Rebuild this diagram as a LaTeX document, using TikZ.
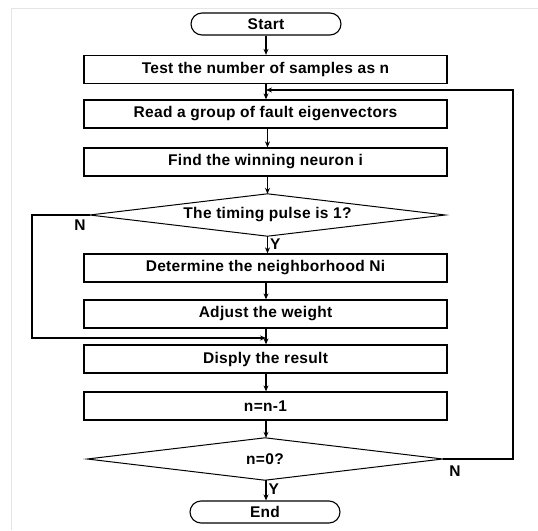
\documentclass[tikz,border=0pt]{standalone}
\usepackage{fontspec}
\setmainfont{Liberation Sans}
\usetikzlibrary{arrows.meta}
\begin{document}
\begin{tikzpicture}[x=1pt,y=-1pt,
  every node/.style={font=\fontsize{15.5}{17}\selectfont\bfseries\addfontfeatures{LetterSpace=2}, text=black},
  procbox/.style={draw=black, line width=1.3pt, rectangle, minimum width=363pt, minimum height=28pt, inner sep=0pt},
  term/.style={draw=black, line width=1.1pt, rounded corners=11pt, minimum width=150pt, minimum height=22pt, inner sep=0pt},
  decbox/.style={rectangle, minimum width=355pt, minimum height=42pt, inner sep=0pt},
  diamondline/.style={draw=black, line width=1pt},
  flow/.style={draw=black, line width=1.3pt, -{Stealth[length=6pt,width=5pt]}},
  plain/.style={draw=black, line width=1.3pt},
  lbl/.style={inner sep=0pt}
]
\useasboundingbox (0,0) rectangle (538,530);
% faint frame
\draw[black!10, line width=1pt] (11,530) -- (11,8) -- (538,8);

\node[term] (start) at (266,24) {Start};
\node[procbox] (b1) at (265.5,69.5) {Test the number of samples as n};
\node[procbox] (b2) at (265.5,114) {Read a group of fault eigenvectors};
\node[procbox] (b3) at (265.5,162) {Find the winning neuron i};
\node[decbox] (d1) at (267.5,215) {The timing pulse is 1?};
\draw[diamondline] (d1.north) -- (d1.east) -- (d1.south) -- (d1.west) -- cycle;
\node[procbox] (b4) at (265.5,268) {Determine the neighborhood Ni};
\node[procbox] (b5) at (265.5,314) {Adjust the weight};
\node[procbox] (b6) at (265.5,359) {Disply the result};
\node[procbox] (b7) at (265.5,406) {n=n-1};
\node[decbox] (d2) at (265,459) {n=0?};
\draw[diamondline] (d2.north) -- (d2.east) -- (d2.south) -- (d2.west) -- cycle;
\node[term] (end) at (265,512) {End};

\coordinate (loopin) at (266,90);
\coordinate (loopr) at (513,90);
\coordinate (loopbr) at (513,459);
\coordinate (nl) at (32,215);
\coordinate (nlb) at (32,338);
\coordinate (nin) at (266,338);

\draw[flow] (start) -- (start|-b1.north);
\draw[plain] (b1.south-|loopin) -- (loopin);
\draw[flow] (loopin) -- (loopin|-b2.north);
\draw[flow] (b2.south-|d1.north) -- (d1.north|-b3.north);
\draw[flow] (b3.south-|d1.north) -- (d1.north);
\draw[flow] (d1.south) -- (d1.south|-b4.north) node[lbl, pos=0.45, right=2pt] {Y};
\draw[flow] (b4.south-|266,0) -- (b5.north-|266,0);
\draw[plain] (b5.south-|266,0) -- (nin);
\draw[flow] (nin) -- (nin|-b6.north);
\draw[flow] (d1.west) -- (nl) -- (nlb) -- (nin);
\node[lbl] at (80,225) {N};
\draw[flow] (b6.south-|266,0) -- (b7.north-|266,0);
\draw[flow] (b7.south-|266,0) -- (d2.north-|266,0);
\draw[flow] (d2.south-|266,0) -- (end.north-|266,0) node[lbl, pos=0.45, right=2pt] {Y};
\draw[flow] (d2.east) -- (loopbr) -- (loopr) -- (loopin);
\node[lbl] at (455,471) {N};
\end{tikzpicture}
\end{document}
